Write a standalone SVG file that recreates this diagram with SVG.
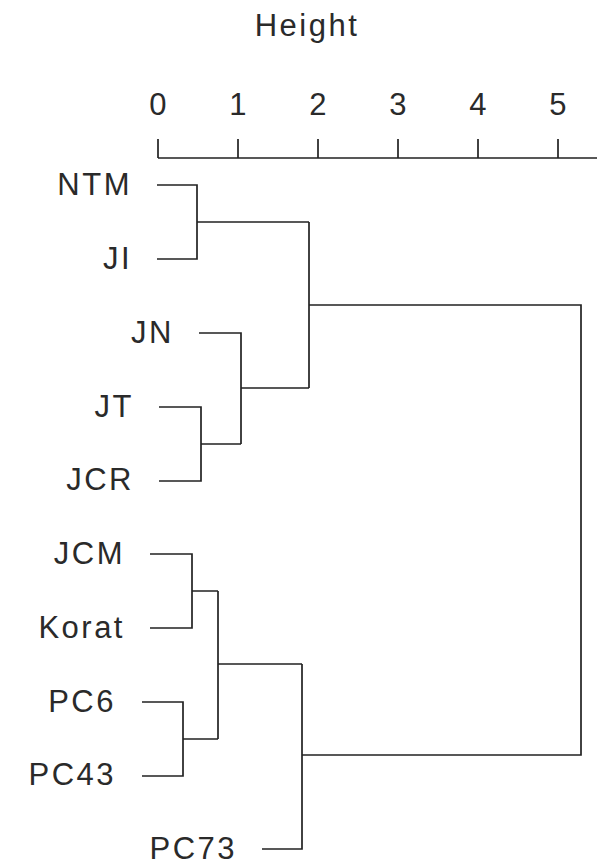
<svg xmlns="http://www.w3.org/2000/svg" width="597" height="865" viewBox="0 0 597 865">
<style>
text{font-family:"Liberation Sans",Arial,sans-serif;font-size:31px;fill:#2a2a2a;letter-spacing:2.5px}
.lbl{text-anchor:end}
.num{text-anchor:middle}
.ln{fill:none;stroke:#222;stroke-width:1.7}
</style>
<rect width="597" height="865" fill="#fff"/>
<g id="axis">
<text x="307" y="36" class="num">Height</text>
<path class="ln" d="M158,158H597M158,139V158M238,139V158M318,139V158M398,139V158M478,139V158M558,139V158"/>
<text x="159" y="115" class="num">0</text>
<text x="239" y="115" class="num">1</text>
<text x="319" y="115" class="num">2</text>
<text x="399" y="115" class="num">3</text>
<text x="479" y="115" class="num">4</text>
<text x="559" y="115" class="num">5</text>
</g>
<g id="n-NTM"><text x="132" y="195" class="lbl">NTM</text></g>
<g id="n-JI"><text x="132" y="269" class="lbl">JI</text></g>
<g id="n-JN"><text x="174" y="343" class="lbl">JN</text></g>
<g id="n-JT"><text x="134" y="417" class="lbl">JT</text></g>
<g id="n-JCR"><text x="134" y="490" class="lbl">JCR</text></g>
<g id="n-JCM"><text x="125" y="564" class="lbl">JCM</text></g>
<g id="n-Korat"><text x="125" y="638" class="lbl">Korat</text></g>
<g id="n-PC6"><text x="116" y="712" class="lbl">PC6</text></g>
<g id="n-PC43"><text x="116" y="785" class="lbl">PC43</text></g>
<g id="n-PC73"><text x="237" y="859" class="lbl">PC73</text></g>
<g id="connectors">
<path class="ln" d="M157,185H197V259H157M197,222H309"/>
<path class="ln" d="M159,407H201V481H159M201,444H241"/>
<path class="ln" d="M199,333H241V444M241,388H309"/>
<path class="ln" d="M309,222V388M309,305H581V755H302"/>
<path class="ln" d="M150,554H192V628H150M192,591H218"/>
<path class="ln" d="M142,702H183V776H142M183,739H218"/>
<path class="ln" d="M218,591V739M218,664H302"/>
<path class="ln" d="M262,849H302V664"/>
</g>
</svg>
